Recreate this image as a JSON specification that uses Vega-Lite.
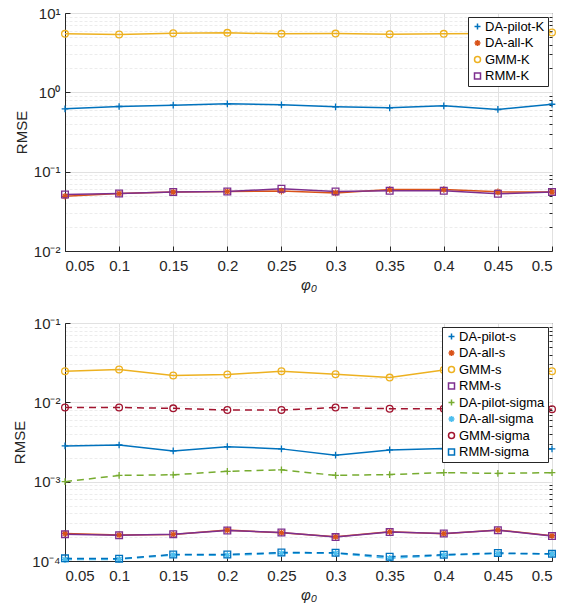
{
  "$schema": "https://vega.github.io/schema/vega-lite/v6.json",
  "background": "white",
  "padding": {"left": 12, "top": 5, "right": 5, "bottom": 5},
  "spacing": 22,
  "config": {
    "font": "Liberation Sans",
    "view": {"stroke": "#262626", "strokeWidth": 1},
    "axis": {
      "labelFont": "Liberation Sans", "labelFontSize": 15, "labelColor": "#262626",
      "titleFont": "Liberation Sans", "titleFontSize": 15, "titleFontWeight": "normal", "titleColor": "#262626",
      "domainColor": "#262626", "tickColor": "#262626", "gridColor": "#e1e1e1", "gridWidth": 1
    },
    "legend": {
      "orient": "top-right", "offset": 4, "fillColor": "white", "strokeColor": "#262626",
      "padding": 3, "labelFont": "Liberation Sans", "labelFontSize": 13, "labelColor": "#000000",
      "rowPadding": 2.5, "symbolStrokeWidth": 1.5, "symbolSize": 36, "labelLimit": 300, "labelOffset": 1, "title": null
    }
  },
  "datasets": {
    "top": [
      {"phi": 0.05, "DA-pilot-K": 0.62, "DA-all-K": 0.049, "GMM-K": 5.46, "RMM-K": 0.0516},
      {"phi": 0.1, "DA-pilot-K": 0.663, "DA-all-K": 0.053, "GMM-K": 5.37, "RMM-K": 0.0531},
      {"phi": 0.15, "DA-pilot-K": 0.688, "DA-all-K": 0.0553, "GMM-K": 5.57, "RMM-K": 0.0553},
      {"phi": 0.2, "DA-pilot-K": 0.716, "DA-all-K": 0.0562, "GMM-K": 5.62, "RMM-K": 0.0562},
      {"phi": 0.25, "DA-pilot-K": 0.696, "DA-all-K": 0.057, "GMM-K": 5.46, "RMM-K": 0.0608},
      {"phi": 0.3, "DA-pilot-K": 0.657, "DA-all-K": 0.054, "GMM-K": 5.5, "RMM-K": 0.0562},
      {"phi": 0.35, "DA-pilot-K": 0.638, "DA-all-K": 0.0596, "GMM-K": 5.4, "RMM-K": 0.0574},
      {"phi": 0.4, "DA-pilot-K": 0.676, "DA-all-K": 0.0596, "GMM-K": 5.46, "RMM-K": 0.0574},
      {"phi": 0.45, "DA-pilot-K": 0.608, "DA-all-K": 0.0557, "GMM-K": 5.5, "RMM-K": 0.0526},
      {"phi": 0.5, "DA-pilot-K": 0.708, "DA-all-K": 0.0553, "GMM-K": 5.69, "RMM-K": 0.0553}
    ],
    "bottom": [
      {"phi": 0.05, "DA-pilot-s": 0.00282, "DA-all-s": 0.000222, "GMM-s": 0.0247, "RMM-s": 0.000218, "DA-pilot-sigma": 0.001, "DA-all-sigma": 0.000104, "GMM-sigma": 0.0086, "RMM-sigma": 0.000108},
      {"phi": 0.1, "DA-pilot-s": 0.0029, "DA-all-s": 0.000213, "GMM-s": 0.0259, "RMM-s": 0.000211, "DA-pilot-sigma": 0.0012, "DA-all-sigma": 0.000105, "GMM-sigma": 0.0086, "RMM-sigma": 0.000107},
      {"phi": 0.15, "DA-pilot-s": 0.00244, "DA-all-s": 0.000216, "GMM-s": 0.0218, "RMM-s": 0.000218, "DA-pilot-sigma": 0.00122, "DA-all-sigma": 0.000119, "GMM-sigma": 0.0084, "RMM-sigma": 0.000121},
      {"phi": 0.2, "DA-pilot-s": 0.00276, "DA-all-s": 0.000245, "GMM-s": 0.0224, "RMM-s": 0.000242, "DA-pilot-sigma": 0.00135, "DA-all-sigma": 0.000118, "GMM-sigma": 0.008, "RMM-sigma": 0.000121},
      {"phi": 0.25, "DA-pilot-s": 0.00259, "DA-all-s": 0.000227, "GMM-s": 0.0247, "RMM-s": 0.000229, "DA-pilot-sigma": 0.00141, "DA-all-sigma": 0.000125, "GMM-sigma": 0.008, "RMM-sigma": 0.000128},
      {"phi": 0.3, "DA-pilot-s": 0.00216, "DA-all-s": 0.000202, "GMM-s": 0.0226, "RMM-s": 0.0002, "DA-pilot-sigma": 0.0012, "DA-all-sigma": 0.000125, "GMM-sigma": 0.0086, "RMM-sigma": 0.000127},
      {"phi": 0.35, "DA-pilot-s": 0.00251, "DA-all-s": 0.000234, "GMM-s": 0.0205, "RMM-s": 0.000232, "DA-pilot-sigma": 0.00123, "DA-all-sigma": 0.000108, "GMM-sigma": 0.0083, "RMM-sigma": 0.000113},
      {"phi": 0.4, "DA-pilot-s": 0.00261, "DA-all-s": 0.000221, "GMM-s": 0.0256, "RMM-s": 0.000222, "DA-pilot-sigma": 0.0013, "DA-all-sigma": 0.000118, "GMM-sigma": 0.0083, "RMM-sigma": 0.00012},
      {"phi": 0.45, "DA-pilot-s": 0.0026, "DA-all-s": 0.000246, "GMM-s": 0.025, "RMM-s": 0.000244, "DA-pilot-sigma": 0.00127, "DA-all-sigma": 0.000124, "GMM-sigma": 0.0083, "RMM-sigma": 0.000126},
      {"phi": 0.5, "DA-pilot-s": 0.00259, "DA-all-s": 0.000208, "GMM-s": 0.0247, "RMM-s": 0.000207, "DA-pilot-sigma": 0.0013, "DA-all-sigma": 0.000122, "GMM-sigma": 0.0082, "RMM-sigma": 0.000123}
    ]
  },
  "resolve": {
    "scale": {"color": "independent", "shape": "independent", "y": "independent"},
    "legend": {"color": "independent", "shape": "independent"}
  },
  "vconcat": [
    {
      "width": 487, "height": 238,
      "data": {"name": "top"},
      "transform": [{"fold": ["DA-pilot-K", "DA-all-K", "GMM-K", "RMM-K"], "as": ["method", "rmse"]}],
      "layer": [
        {
          "mark": {"type": "line", "strokeWidth": 1.5},
          "encoding": {
            "x": {"field": "phi", "type": "quantitative", "scale": {"domain": [0.05, 0.5], "nice": false, "zero": false},
                  "axis": {"values": [0.05, 0.1, 0.15, 0.2, 0.25, 0.3, 0.35, 0.4, 0.45, 0.5], "format": ".2~f", "grid": true, "tickSize": -5, "labelPadding": 12, "title": "φ₀", "titleFontStyle": "italic", "titlePadding": 4}},
            "y": {"field": "rmse", "type": "quantitative", "scale": {"type": "log", "domain": [0.01, 10], "nice": false},
                  "axis": {"values": [0.01, 0.1, 1, 10], "grid": true, "tickSize": -5, "labelPadding": 10, "title": "RMSE", "titlePadding": 4,
                           "labelExpr": "'10' + (datum.value < 0.99 ? '⁻' : '') + ['⁰','¹','²','³','⁴'][abs(round(log(datum.value)/LN10))]"}},
            "color": {"field": "method", "type": "nominal",
                      "scale": {"domain": ["DA-pilot-K", "DA-all-K", "GMM-K", "RMM-K"], "range": ["#0072BD", "#D95319", "#EDB120", "#7E2F8E"]},
                      "legend": {"encoding": {"symbols": {"update": {"fill": {"value": "transparent"}, "shape": {"signal": "indexof(datum.value,'pilot')>=0 ? 'M-1.5,0H1.5M0,-1V1' : indexof(datum.value,'all')>=0 ? 'M-1.5,0H1.5M0,-1V1M-0.7,-0.7L0.7,0.7M-0.7,0.7L0.7,-0.7' : indexof(datum.value,'GMM')>=0 ? 'M1,0A1,1 0 1,1 -1,0A1,1 0 1,1 1,0ZM-1.5,0H1.5' : 'M-0.9,-0.9H0.9V0.9H-0.9ZM-1.5,0H1.5'"}}}}}}
          }
        },
        {
          "mark": {"type": "point", "filled": false, "size": 45, "strokeWidth": 1.3, "opacity": 1},
          "encoding": {
            "x": {"field": "phi", "type": "quantitative"},
            "y": {"field": "rmse", "type": "quantitative",
                  "axis": {"values": [0.02,0.03,0.04,0.05,0.06,0.07,0.08,0.09,0.2,0.3,0.4,0.5,0.6,0.7,0.8,0.9,2,3,4,5,6,7,8,9], "labels": false, "grid": true, "gridDash": [3, 2], "gridColor": "#ececec", "tickSize": -3, "domain": false, "title": null}},
            "color": {"field": "method", "type": "nominal",
                      "scale": {"domain": ["DA-pilot-K", "DA-all-K", "GMM-K", "RMM-K"], "range": ["#0072BD", "#D95319", "#EDB120", "#7E2F8E"]},
                      "legend": {"encoding": {"symbols": {"update": {"fill": {"value": "transparent"}, "shape": {"signal": "indexof(datum.value,'pilot')>=0 ? 'M-1.5,0H1.5M0,-1V1' : indexof(datum.value,'all')>=0 ? 'M-1.5,0H1.5M0,-1V1M-0.7,-0.7L0.7,0.7M-0.7,0.7L0.7,-0.7' : indexof(datum.value,'GMM')>=0 ? 'M1,0A1,1 0 1,1 -1,0A1,1 0 1,1 1,0ZM-1.5,0H1.5' : 'M-0.9,-0.9H0.9V0.9H-0.9ZM-1.5,0H1.5'"}}}}}},
            "shape": {"field": "method", "type": "nominal", "legend": null,
                      "scale": {"domain": ["DA-pilot-K", "DA-all-K", "GMM-K", "RMM-K"], "range": ["M-1,0L1,0M0,-1L0,1", "M-1,0L1,0M0,-1L0,1M-0.7,-0.7L0.7,0.7M-0.7,0.7L0.7,-0.7", "circle", "square"]}}
          }
        }
      ],
      "resolve": {"axis": {"y": "independent"}}
    },
    {
      "width": 487, "height": 238,
      "data": {"name": "bottom"},
      "transform": [{"fold": ["DA-pilot-s", "DA-all-s", "GMM-s", "RMM-s", "DA-pilot-sigma", "DA-all-sigma", "GMM-sigma", "RMM-sigma"], "as": ["method", "rmse"]}],
      "layer": [
        {
          "transform": [{"filter": "indexof(datum.method, 'sigma') < 0"}],
          "mark": {"type": "line", "strokeWidth": 1.5},
          "encoding": {
            "x": {"field": "phi", "type": "quantitative", "scale": {"domain": [0.05, 0.5], "nice": false, "zero": false},
                  "axis": {"values": [0.05, 0.1, 0.15, 0.2, 0.25, 0.3, 0.35, 0.4, 0.45, 0.5], "format": ".2~f", "grid": true, "tickSize": -5, "labelPadding": 12, "title": "φ₀", "titleFontStyle": "italic", "titlePadding": 4}},
            "y": {"field": "rmse", "type": "quantitative", "scale": {"type": "log", "domain": [0.0001, 0.1], "nice": false},
                  "axis": {"values": [0.0001, 0.001, 0.01, 0.1], "grid": true, "tickSize": -5, "labelPadding": 10, "title": "RMSE", "titlePadding": 4,
                           "labelExpr": "'10' + (datum.value < 0.99 ? '⁻' : '') + ['⁰','¹','²','³','⁴'][abs(round(log(datum.value)/LN10))]"}},
            "color": {"field": "method", "type": "nominal",
                      "scale": {"domain": ["DA-pilot-s", "DA-all-s", "GMM-s", "RMM-s", "DA-pilot-sigma", "DA-all-sigma", "GMM-sigma", "RMM-sigma"], "range": ["#0072BD", "#D95319", "#EDB120", "#7E2F8E", "#77AC30", "#4DBEEE", "#A2142F", "#0072BD"]},
                      "legend": {"encoding": {"symbols": {"update": {"fill": {"value": "transparent"}, "shape": {"signal": "indexof(datum.value,'pilot')>=0 ? 'M-1.5,0H1.5M0,-1V1' : indexof(datum.value,'all')>=0 ? 'M-1.5,0H1.5M0,-1V1M-0.7,-0.7L0.7,0.7M-0.7,0.7L0.7,-0.7' : indexof(datum.value,'GMM')>=0 ? 'M1,0A1,1 0 1,1 -1,0A1,1 0 1,1 1,0ZM-1.5,0H1.5' : 'M-0.9,-0.9H0.9V0.9H-0.9ZM-1.5,0H1.5'"}}}}}}
          }
        },
        {
          "transform": [{"filter": "indexof(datum.method, 'sigma') >= 0"}],
          "mark": {"type": "line", "strokeWidth": 1.5, "strokeDash": [7, 5]},
          "encoding": {
            "x": {"field": "phi", "type": "quantitative"},
            "y": {"field": "rmse", "type": "quantitative", "axis": null},
            "color": {"field": "method", "type": "nominal",
                      "scale": {"domain": ["DA-pilot-s", "DA-all-s", "GMM-s", "RMM-s", "DA-pilot-sigma", "DA-all-sigma", "GMM-sigma", "RMM-sigma"], "range": ["#0072BD", "#D95319", "#EDB120", "#7E2F8E", "#77AC30", "#4DBEEE", "#A2142F", "#0072BD"]}}
          }
        },
        {
          "mark": {"type": "point", "filled": false, "size": 45, "strokeWidth": 1.3, "opacity": 1},
          "encoding": {
            "x": {"field": "phi", "type": "quantitative"},
            "y": {"field": "rmse", "type": "quantitative",
                  "axis": {"values": [0.0002,0.0003,0.0004,0.0005,0.0006,0.0007,0.0008,0.0009,0.002,0.003,0.004,0.005,0.006,0.007,0.008,0.009,0.02,0.03,0.04,0.05,0.06,0.07,0.08,0.09], "labels": false, "grid": true, "gridDash": [3, 2], "gridColor": "#ececec", "tickSize": -3, "domain": false, "title": null}},
            "color": {"field": "method", "type": "nominal",
                      "scale": {"domain": ["DA-pilot-s", "DA-all-s", "GMM-s", "RMM-s", "DA-pilot-sigma", "DA-all-sigma", "GMM-sigma", "RMM-sigma"], "range": ["#0072BD", "#D95319", "#EDB120", "#7E2F8E", "#77AC30", "#4DBEEE", "#A2142F", "#0072BD"]},
                      "legend": {"encoding": {"symbols": {"update": {"fill": {"value": "transparent"}, "shape": {"signal": "indexof(datum.value,'pilot')>=0 ? 'M-1.5,0H1.5M0,-1V1' : indexof(datum.value,'all')>=0 ? 'M-1.5,0H1.5M0,-1V1M-0.7,-0.7L0.7,0.7M-0.7,0.7L0.7,-0.7' : indexof(datum.value,'GMM')>=0 ? 'M1,0A1,1 0 1,1 -1,0A1,1 0 1,1 1,0ZM-1.5,0H1.5' : 'M-0.9,-0.9H0.9V0.9H-0.9ZM-1.5,0H1.5'"}}}}}},
            "shape": {"field": "method", "type": "nominal", "legend": null,
                      "scale": {"domain": ["DA-pilot-s", "DA-all-s", "GMM-s", "RMM-s", "DA-pilot-sigma", "DA-all-sigma", "GMM-sigma", "RMM-sigma"], "range": ["M-1,0L1,0M0,-1L0,1", "M-1,0L1,0M0,-1L0,1M-0.7,-0.7L0.7,0.7M-0.7,0.7L0.7,-0.7", "circle", "square", "M-1,0L1,0M0,-1L0,1", "M-1,0L1,0M0,-1L0,1M-0.7,-0.7L0.7,0.7M-0.7,0.7L0.7,-0.7", "circle", "square"]}}
          }
        }
      ],
      "resolve": {"axis": {"y": "independent"}}
    }
  ]
}
